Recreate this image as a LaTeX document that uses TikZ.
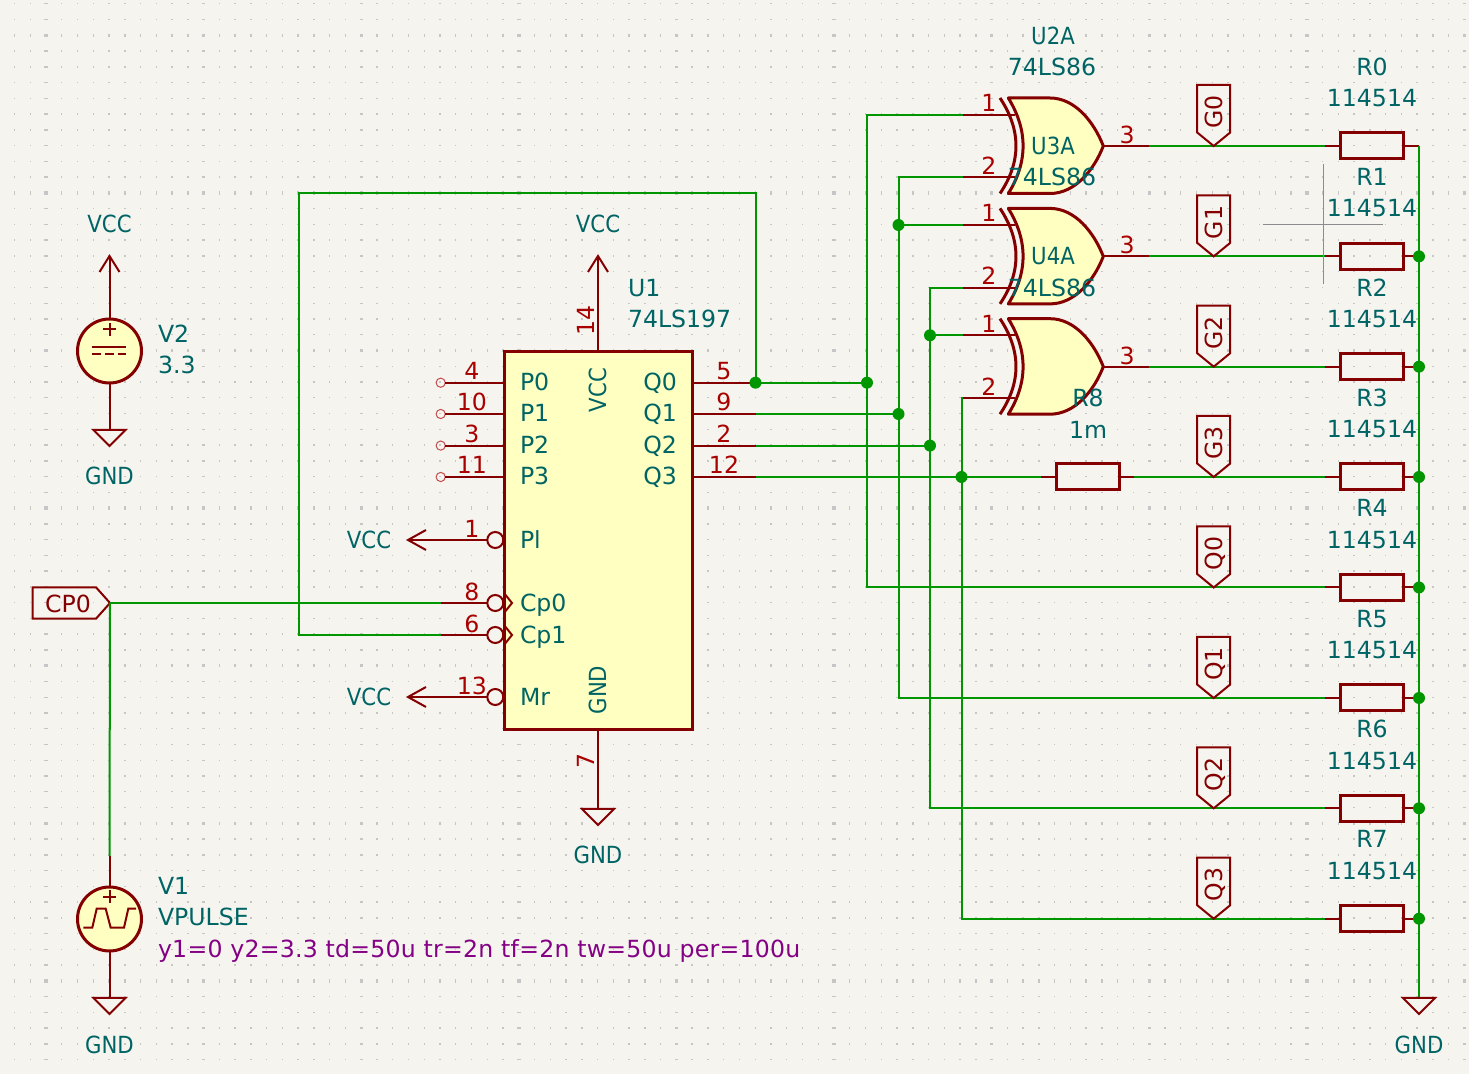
\documentclass[tikz,border=0pt]{standalone}
\usepackage{fontspec}
\setmainfont{DejaVu Sans}
\newfontfamily\capfont[FakeStretch=0.9]{DejaVu Sans}
\newfontfamily\simfont[LetterSpace=1.1]{DejaVu Sans}
\definecolor{bgc}{HTML}{F5F4EF}
\definecolor{wirec}{HTML}{009600}
\definecolor{bodyc}{HTML}{840000}
\definecolor{fillc}{HTML}{FFFFC2}
\definecolor{textc}{HTML}{006464}
\definecolor{numc}{HTML}{A90000}
\definecolor{simc}{HTML}{840084}
\definecolor{dotc}{HTML}{C6C6C6}
\tikzset{
  x=0.5pt,y=-0.5pt,
  wire/.style={draw=wirec,line width=1pt},
  pinl/.style={draw=bodyc,line width=1pt},
  outl/.style={draw=bodyc,line width=1.5pt,line join=round},
  flagl/.style={draw=bodyc,line width=1pt,line join=miter},
  junc/.style={circle,fill=wirec,inner sep=0pt,minimum size=6pt},
  txtbase/.style={font=\fontsize{11.8}{13}\selectfont,inner sep=0pt,outer sep=0pt,yshift=-4.25pt},
  lab/.style={txtbase,text=textc,anchor=base},
  labw/.style={txtbase,text=textc,anchor=base west},
  labe/.style={txtbase,text=textc,anchor=base east},
  labr/.style={rotate=90,txtbase,text=textc,anchor=base},
  numl/.style={txtbase,text=numc,anchor=base},
  numr/.style={rotate=90,txtbase,text=numc,anchor=base},
  netl/.style={txtbase,text=bodyc,anchor=base},
  netr/.style={rotate=90,txtbase,text=bodyc,anchor=base},
  simt/.style={txtbase,font=\fontsize{11.8}{13}\selectfont\simfont,text=simc,anchor=base west},
  resbody/.style={draw=bodyc,line width=1.5pt,rectangle,minimum width=31.5pt,minimum height=13pt,inner sep=0pt,outer sep=0pt},
  icbody/.style={draw=bodyc,line width=1.5pt,fill=fillc,rectangle,minimum width=94pt,minimum height=189.25pt,inner sep=0pt,outer sep=0pt},
  srcbody/.style={draw=bodyc,line width=1.5pt,fill=fillc,circle,minimum size=32pt,inner sep=0pt,outer sep=0pt},
  bubble/.style={draw=bodyc,line width=1pt,circle,minimum size=8pt,inner sep=0pt,outer sep=0pt},
  nc/.style={draw=numc!70,line width=0.5pt,circle,minimum size=4.6pt,inner sep=0pt,outer sep=0pt},
  cursorl/.style={draw=black!45,line width=0.4pt},
}
\newcommand{\gndsym}[1]{\draw[pinl,line join=miter] ($(#1)+(-16,0)$) -- ($(#1)+(16,0)$) -- ($(#1)+(0,16)$) -- cycle;}
\newcommand{\vccup}[1]{\draw[pinl,line join=miter] ($(#1)+(-10,16)$) -- (#1) -- ($(#1)+(10,16)$);}
\newcommand{\vccleft}[1]{\draw[pinl,line join=miter] ($(#1)+(18,-10)$) -- (#1) -- ($(#1)+(18,10)$);}
\newcommand{\resistor}[2]{%
  \node[resbody] (#1) at (1372,#2) {};
  \coordinate (#1l) at (1325,#2);
  \coordinate (#1r) at (1419,#2);
  \draw[pinl] (#1l) -- (#1.west);
  \draw[pinl] (#1.east) -- (#1r);
}
\newcommand{\xorgate}[2]{%
  \coordinate (#1a) at (963,{#2-31.4});
  \coordinate (#1b) at (963,{#2+31.4});
  \coordinate (#1y) at (1149,#2);
  \draw[pinl] (#1a) -- (1015,{#2-31.4});
  \draw[pinl] (#1b) -- (1015,{#2+31.4});
  \draw[pinl] (1103,#2) -- (#1y);
  \draw[outl,fill=fillc] (1008.3,{#2-48}) -- (1050,{#2-48})
     .. controls (1075,{#2-48}) and (1094,{#2-24}) .. (1103.3,#2)
     .. controls (1094,{#2+24}) and (1075,{#2+47.5}) .. (1050,{#2+47.5})
     -- (1008.3,{#2+47.5})
     .. controls (1028,{#2+16}) and (1028,{#2-16}) .. (1008.3,{#2-48}) -- cycle;
  \draw[outl] (1000,{#2-48}) .. controls (1021.3,{#2-16}) and (1021.3,{#2+16}) .. (1000,{#2+47.5});
  \node[numl] (#1n1) at (989,{#2-43}) {1};
  \node[numl] (#1n2) at (989,{#2+20}) {2};
  \node[numl] (#1n3) at (1127,{#2-11}) {3};
}
\newcommand{\flag}[3]{%
  \coordinate (#1tip) at (1213.7,#2);
  \draw[flagl] (#1tip) -- (1230.2,{#2-13.5}) -- (1230.2,{#2-61}) -- (1197.2,{#2-61}) -- (1197.2,{#2-13.5}) -- cycle;
  \node[netr] (#1t) at (1214,{#2-34}) {#3};
}
\usetikzlibrary{calc}
\begin{document}
\begin{tikzpicture}
\useasboundingbox (0,0) rectangle (1469,1074);
\fill[bgc] (0,0) rectangle (1469,1074);
\foreach \i in {-2,...,90}{
  \pgfmathsetmacro\xx{46+15.76*\i}
  \pgfmathsetmacro\ww{mod(\i+20,10)==0?1.7:0.7}
  \foreach \j in {-2,...,65}{
    \pgfmathsetmacro\yy{35.3+15.76*\j}
    \pgfmathsetmacro\hh{mod(\j+20,10)==0?1.7:0.7}
    \fill[dotc] (\xx-\ww,\yy-\hh) rectangle (\xx+\ww,\yy+\hh);
  }
}
\coordinate (v2top) at (109.5,256);
\coordinate (v2bot) at (109.5,430);
\coordinate (v1top) at (109.5,856);
\coordinate (v1bot) at (109.5,998);
\coordinate (cpo) at (110,603);
\coordinate (u1top) at (598,256);
\coordinate (u1bot) at (598,809);
\coordinate (plend) at (408,540);
\coordinate (mrend) at (408,697);
\coordinate (cp0end) at (441,603);
\coordinate (cp1end) at (441,635);
\coordinate (q0p) at (755.5,382.7);
\coordinate (q1p) at (755.5,414);
\coordinate (q2p) at (755.5,445.6);
\coordinate (q3p) at (755.5,477);
\coordinate (fbk) at (299,193);
\coordinate (gndr) at (1419,998);
\node[icbody] (U1) at (598,540.5) {};
\draw[pinl] (U1.north) -- (u1top);
\vccup{u1top}
\draw[pinl] (U1.south) -- (u1bot);
\gndsym{u1bot}
\foreach \y/\n in {382.7/p0,414/p1,445.6/p2,477/p3}{
  \node[nc] (\n) at (440.7,\y) {};
  \draw[pinl] (\n.east) -- (504,\y);
}
\foreach \n/\y in {q0/382.7,q1/414,q2/445.6,q3/477}{
  \coordinate (\n s) at (692,\y);
}
\draw[pinl] (q0s) -- (q0p);
\draw[pinl] (q1s) -- (q1p);
\draw[pinl] (q2s) -- (q2p);
\draw[pinl] (q3s) -- (q3p);
\node[bubble] (bpl) at (495.3,540) {};
\node[bubble] (bc0) at (495.3,603) {};
\node[bubble] (bc1) at (495.3,635) {};
\node[bubble] (bmr) at (495.3,697) {};
\draw[pinl] (bpl.west) -- (plend);
\vccleft{plend}
\draw[pinl] (bmr.west) -- (mrend);
\vccleft{mrend}
\draw[pinl] (bc0.west) -- (cp0end);
\draw[pinl] (bc1.west) -- (cp1end);
\draw[pinl,line join=miter] (504,593) -- (512,603) -- (504,613);
\draw[pinl,line join=miter] (504,625) -- (512,635) -- (504,645);
\node[srcbody] (V2) at (109.5,351) {};
\draw[pinl] (V2.north) -- (v2top);
\vccup{v2top}
\draw[pinl] (V2.south) -- (v2bot);
\gndsym{v2bot}
\draw[pinl] (103,329.3) -- (116,329.3) (109.5,322.8) -- (109.5,335.8);
\draw[pinl] (92.3,347) -- (126.3,347);
\draw[pinl] (92.3,354) -- (101,354) (105,354) -- (114,354) (118,354) -- (126.3,354);
\node[srcbody] (V1) at (109.5,919) {};
\draw[pinl] (V1.north) -- (v1top);
\draw[pinl] (V1.south) -- (v1bot);
\gndsym{v1bot}
\draw[pinl] (103,897) -- (116,897) (109.5,890.5) -- (109.5,903.5);
\draw[pinl,line join=miter] (83.3,927.7) -- (92.3,927.7) -- (96.7,908.7) -- (105.7,908.7) -- (110.7,927.7) -- (124,927.7) -- (128.3,908.7) -- (136,908.7);
\draw[flagl] (cpo) -- (96,587.3) -- (32.7,587.3) -- (32.7,618.7) -- (96,618.7) -- cycle;
\xorgate{g1}{146}
\xorgate{g2}{256.4}
\xorgate{g3}{366.7}
\resistor{R0}{146}
\resistor{R1}{256.4}
\resistor{R2}{366.7}
\resistor{R3}{477}
\resistor{R4}{587.5}
\resistor{R5}{698}
\resistor{R6}{808.3}
\resistor{R7}{918.7}
\node[resbody] (R8) at (1087.5,477) {};
\coordinate (R8l) at (1041,477);
\coordinate (R8r) at (1134,477);
\draw[pinl] (R8l) -- (R8.west);
\draw[pinl] (R8.east) -- (R8r);
\coordinate (j0) at (867,382.7);
\coordinate (j1) at (898.5,414);
\coordinate (j2) at (930,445.6);
\coordinate (j3) at (961.5,477);
\draw[wire] (cpo) -- (cp0end);
\draw[wire] (cpo) -- (v1top);
\draw[wire,line join=miter] (cp1end) -| (fbk) -| (q0p);
\draw[wire] (q0p) -- (j0);
\draw[wire] (q1p) -- (j1);
\draw[wire] (q2p) -- (j2);
\draw[wire] (q3p) -- (R8l);
\draw[wire] (R8r) -- (R3l);
\draw[wire,line join=miter] (g1a) -| (j0);
\draw[wire,line join=miter] (j0) |- (R4l);
\draw[wire,line join=miter] (g1b) -| (j1);
\draw[wire,line join=miter] (j1) |- (R5l);
\draw[wire] (g2a) -- (g2a -| j1);
\draw[wire,line join=miter] (g2b) -| (j2);
\draw[wire,line join=miter] (j2) |- (R6l);
\draw[wire] (g3a) -- (g3a -| j2);
\draw[wire,line join=miter] (g3b) -| (j3);
\draw[wire,line join=miter] (j3) |- (R7l);
\draw[wire] (g1y) -- (R0l);
\draw[wire] (g2y) -- (R1l);
\draw[wire] (g3y) -- (R2l);
\draw[wire,line join=miter] (R0r) -- (gndr);
\gndsym{gndr}
\node[junc] (jq) at (q0p) {};
\node[junc] (ja) at (j0) {};
\node[junc] (jb) at (j1) {};
\node[junc] (jc) at (j2) {};
\node[junc] (jd) at (j3) {};
\node[junc] (je) at (g2a -| j1) {};
\node[junc] (jf) at (g3a -| j2) {};
\foreach \n in {R1,R2,R3,R4,R5,R6,R7}{\node[junc] (j\n) at (\n r) {};}
\flag{fa}{146}{G0}
\flag{fb}{256.4}{G1}
\flag{fc}{366.7}{G2}
\flag{fd}{477}{G3}
\flag{fe}{587.5}{Q0}
\flag{ff}{698}{Q1}
\flag{fg}{808.3}{Q2}
\flag{fh}{918.7}{Q3}
\coordinate (cv1) at (1323.7,164.3);
\coordinate (cv2) at (1323.7,283.7);
\coordinate (ch1) at (1262.7,224.3);
\coordinate (ch2) at (1383,224.3);
\draw[cursorl] (cv1) -- (cv2);
\draw[cursorl] (ch1) -- (ch2);
\node[lab] (t1) at (109.5,224) {\capfont VCC};
\node[labw] (t2) at (158,334) {V2};
\node[labw] (t3) at (158,365) {3.3};
\node[lab] (t4) at (109.5,476) {\capfont GND};
\node[labw] (t5) at (158,886) {V1};
\node[labw] (t6) at (158,917) {VPULSE};
\node[simt] (t7) at (158,949) {y1=0 y2=3.3 td=50u tr=2n tf=2n tw=50u per=100u};
\node[lab] (t8) at (109.5,1045) {\capfont GND};
\node[netl] (t9) at (68,604) {CP0};
\node[lab] (t10) at (598,224) {\capfont VCC};
\node[labw] (t11) at (628,288) {U1};
\node[labw] (t12) at (628,319) {74LS197};
\node[numr] (t13) at (586,320) {14};
\node[numr] (t14) at (586,761) {7};
\node[lab] (t15) at (598,855) {\capfont GND};
\node[labr] (t16) at (598,390) {\capfont VCC};
\node[labr] (t17) at (598,690) {\capfont GND};
\node[labw] (t18) at (520,382) {P0};
\node[labw] (t19) at (520,413) {P1};
\node[labw] (t20) at (520,445) {P2};
\node[labw] (t21) at (520,476) {P3};
\node[labw] (t22) at (520,540) {Pl};
\node[labw] (t23) at (520,603) {Cp0};
\node[labw] (t24) at (520,635) {Cp1};
\node[labw] (t25) at (520,697) {Mr};
\node[labe] (t26) at (677,382) {Q0};
\node[labe] (t27) at (677,413) {Q1};
\node[labe] (t28) at (677,445) {Q2};
\node[labe] (t29) at (677,476) {Q3};
\node[numl] (n4) at (472,371) {4};
\node[numl] (n10) at (472,402) {10};
\node[numl] (n3) at (472,434) {3};
\node[numl] (n11) at (472,465) {11};
\node[numl] (n1) at (472,529) {1};
\node[numl] (n8) at (472,592) {8};
\node[numl] (n6) at (472,624) {6};
\node[numl] (n13) at (472,686) {13};
\node[numl] (n5) at (724,371) {5};
\node[numl] (n9) at (724,402) {9};
\node[numl] (n2) at (724,434) {2};
\node[numl] (n12) at (724,465) {12};
\node[lab] (t30) at (369,540) {\capfont VCC};
\node[lab] (t31) at (369,697) {\capfont VCC};
\node[lab] (t33) at (1053,36) {\capfont U2A};
\node[lab] (t34) at (1052,67) {74LS86};
\node[lab] (t35) at (1053,146) {\capfont U3A};
\node[lab] (t36) at (1052,177) {74LS86};
\node[lab] (t37) at (1053,256) {\capfont U4A};
\node[lab] (t38) at (1052,288) {74LS86};
\node[lab] (t39) at (1088,398) {R8};
\node[lab] (t40) at (1088,430) {1m};
\foreach \k/\y in {0/67,1/177,2/288,3/398,4/508,5/619,6/729,7/839}{
  \node[lab] (rn\k) at (1372,\y) {R\k};
}
\foreach \k/\y in {0/98,1/208,2/319,3/429,4/540,5/650,6/761,7/871}{
  \node[lab] (rv\k) at (1372,\y) {114514};
}
\node[lab] (t41) at (1419,1045) {\capfont GND};
\end{tikzpicture}
\end{document}
